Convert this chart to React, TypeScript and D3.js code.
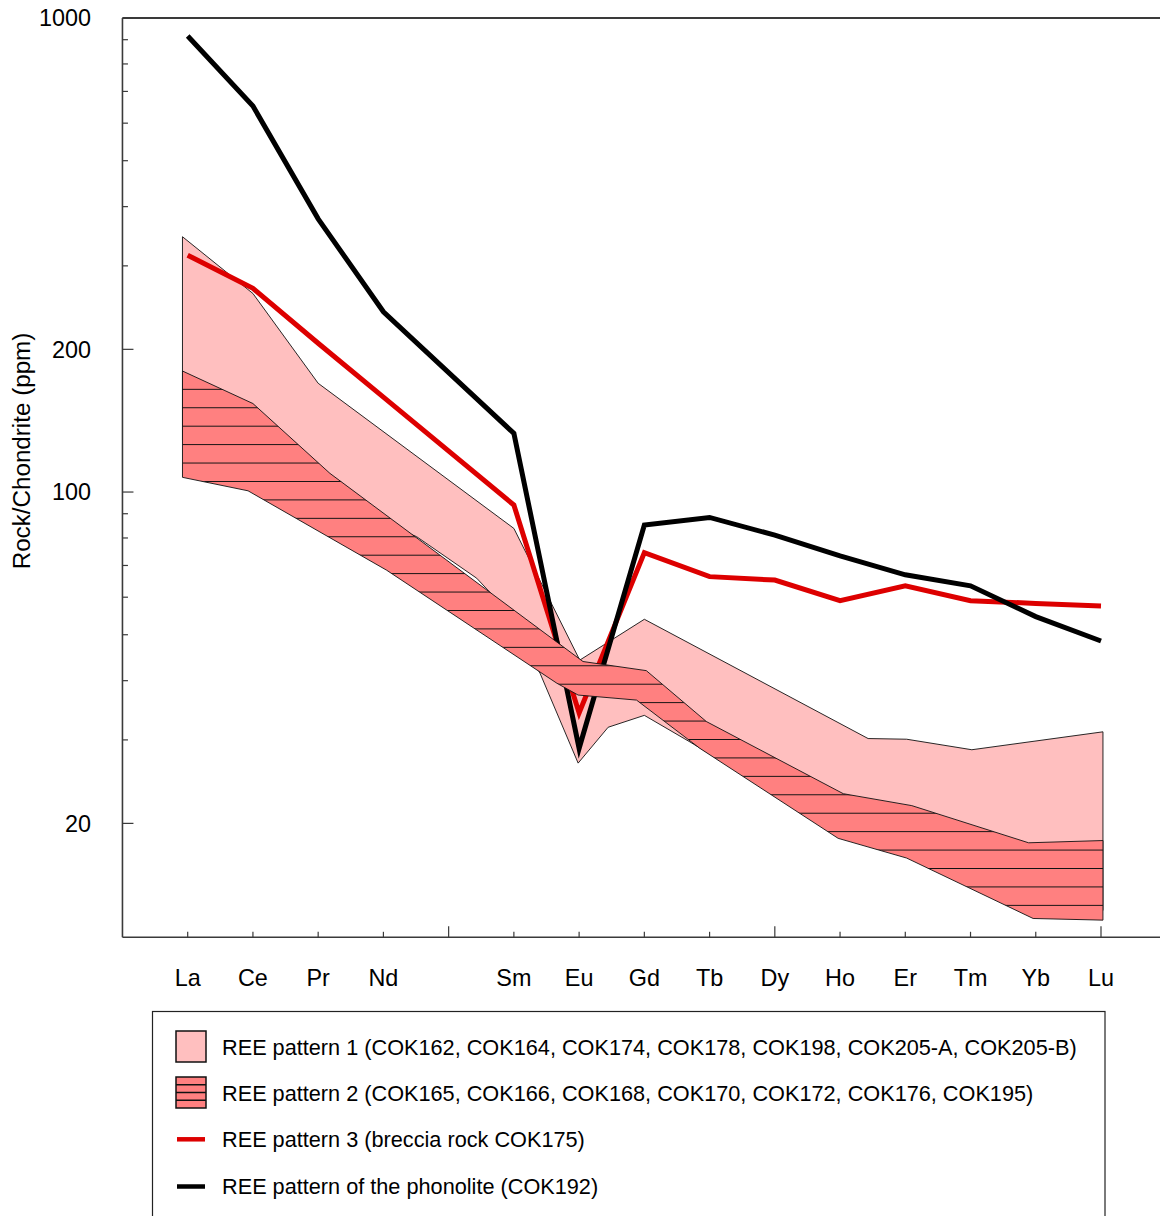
import React from "react";
import * as d3 from "d3";

// Rare earth elements on the x axis (atomic number positions; Pm has no label)
const ELEMENTS = ["La", "Ce", "Pr", "Nd", "Sm", "Eu", "Gd", "Tb", "Dy", "Ho", "Er", "Tm", "Yb", "Lu"];
const ATOMIC = [57, 58, 59, 60, 62, 63, 64, 65, 66, 67, 68, 69, 70, 71];
const X_TICKS = [57, 58, 59, 60, 61, 62, 63, 64, 65, 66, 67, 68, 69, 70, 71];
const X_MAJOR_TICKS = [61, 66, 71];
const Y_LABELS = [20, 100, 200, 1000];

// Chondrite-normalised values
const PHONOLITE = [916, 652, 377, 240, 133, 28.8, 85.2, 88.4, 81.1, 73.3, 66.9, 63.4, 54.6, 48.5];
const BRECCIA = [316, 269, 206, 158.6, 93.9, 34.2, 74.5, 66.3, 65.2, 59.0, 63.4, 59.0, 58.2, 57.5];

// Envelopes of the sample groups: [position, value]
const PATTERN1_MAX: [number, number][] = [
  [56.92, 345.6], [58.0, 262.3], [59.0, 169.6], [62.0, 83.8], [63.01, 44.2], [64.0, 53.9],
  [67.43, 30.2], [68.02, 30.1], [69.02, 28.6], [71.03, 31.2],
];
const PATTERN1_MIN: [number, number][] = [
  [56.92, 128.8], [59.18, 96.2], [60.51, 80.5], [61.43, 65.8], [61.63, 61.5], [62.4, 41.5],
  [62.985, 26.8], [63.445, 31.9], [64.0, 33.8], [64.7, 29.7], [66.97, 19.2], [71.03, 13.1],
];
const PATTERN2_MAX: [number, number][] = [
  [56.92, 180.0], [58.0, 153.7], [59.18, 109.5], [63.06, 43.9], [64.03, 42.0], [64.95, 32.8],
  [67.05, 23.1], [68.1, 21.8], [69.89, 18.2], [71.03, 18.4],
];
const PATTERN2_MIN: [number, number][] = [
  [56.92, 107.4], [57.925, 100.6], [60.05, 68.4], [62.66, 39.5], [62.985, 37.3], [63.88, 36.4],
  [64.85, 28.8], [66.97, 18.6], [68.02, 16.9], [69.96, 12.6], [71.03, 12.5],
];

const LEGEND = [
  "REE pattern 1 (COK162, COK164, COK174, COK178, COK198, COK205-A, COK205-B)",
  "REE pattern 2 (COK165, COK166, COK168, COK170, COK172, COK176, COK195)",
  "REE pattern 3 (breccia rock COK175)",
  "REE pattern of the phonolite (COK192)",
];

const FONT = "'Liberation Sans', Arial, Helvetica, sans-serif";
const PINK = "#FFBFBF";
const SALMON = "#FF8080";
const RED = "#DD0000";

export default function App() {
  const left = 122.46;
  const top = 18;
  const bottom = 937.3;
  const step = 65.236;
  const x = d3.scaleLinear().domain([56, 72]).range([left, left + 16 * step]);
  const y = d3.scaleLog().domain([11.5, 1000]).range([bottom, top]);

  const line = d3.line<[number, number]>().x((d) => x(d[0])).y((d) => y(d[1]));
  const band = (hi: [number, number][], lo: [number, number][]) =>
    line([...hi, ...lo.slice().reverse()]) + "Z";
  const series = (vals: number[]) => line(vals.map((v, i) => [ATOMIC[i], v] as [number, number]));

  const yTicks = y.ticks();
  const axisColor = "#3a3a3a";

  return (
    <svg
      width={1160}
      height={1216}
      style={{ position: "absolute", left: 0, top: 0, background: "#fff" }}
      fontFamily={FONT}
    >
      <defs>
        <pattern id="hatch" patternUnits="userSpaceOnUse" x={0} y={11.5} width={40} height={18.43}>
          <rect width={40} height={18.43} fill={SALMON} />
          <line x1={0} x2={40} y1={9.215} y2={9.215} stroke="#111" strokeWidth={1} />
        </pattern>
      </defs>

      {/* pattern 1 envelope */}
      <path d={band(PATTERN1_MAX, PATTERN1_MIN)} fill={PINK} stroke="#111" strokeWidth={0.9} strokeLinejoin="miter" />

      {/* single samples */}
      <path d={series(BRECCIA) || ""} fill="none" stroke={RED} strokeWidth={5} strokeLinejoin="miter" strokeMiterlimit={10} />
      <path d={series(PHONOLITE) || ""} fill="none" stroke="#000" strokeWidth={5} strokeLinejoin="miter" strokeMiterlimit={10} />

      {/* pattern 2 envelope, hatched */}
      <path d={band(PATTERN2_MAX, PATTERN2_MIN)} fill="url(#hatch)" stroke="#111" strokeWidth={0.9} />

      {/* axes */}
      <line x1={left} x2={1160} y1={top} y2={top} stroke={axisColor} strokeWidth={1.8} />
      <line x1={left} x2={1160} y1={bottom} y2={bottom} stroke={axisColor} strokeWidth={1.6} />
      <line x1={left} x2={left} y1={top} y2={bottom} stroke={axisColor} strokeWidth={1.6} />

      {yTicks.map((t) => {
        const major = Y_LABELS.includes(t);
        return (
          <line key={"yt" + t} x1={left} x2={left + (major ? 11 : 5.5)} y1={y(t)} y2={y(t)} stroke={axisColor} strokeWidth={1.2} />
        );
      })}
      {Y_LABELS.map((t) => (
        <text key={"yl" + t} x={91} y={y(t)} dy="0.35em" textAnchor="end" fontSize={23.4} fill="#000">
          {t}
        </text>
      ))}

      {X_TICKS.map((t) => {
        const major = X_MAJOR_TICKS.includes(t);
        return (
          <line key={"xt" + t} x1={x(t)} x2={x(t)} y1={bottom} y2={bottom - (major ? 11 : 5.5)} stroke={axisColor} strokeWidth={1.2} />
        );
      })}
      {ELEMENTS.map((el, i) => (
        <text key={"xl" + el} x={x(ATOMIC[i])} y={986} textAnchor="middle" fontSize={23.4} fill="#000">
          {el}
        </text>
      ))}

      <text transform="translate(30,451) rotate(-90)" textAnchor="middle" fontSize={24.2} fill="#000">
        Rock/Chondrite (ppm)
      </text>

      {/* legend */}
      <rect x={152.5} y={1011.5} width={952.5} height={240} fill="none" stroke="#222" strokeWidth={1.2} />
      <rect x={176} y={1031} width={30} height={31} fill={PINK} stroke="#111" strokeWidth={1.5} />
      <rect x={176} y={1077} width={30} height={31} fill={SALMON} stroke="#111" strokeWidth={1.5} />
      {[0.25, 0.5, 0.75].map((f) => (
        <line key={"lh" + f} x1={176} x2={206} y1={1077 + 31 * f} y2={1077 + 31 * f} stroke="#111" strokeWidth={1.5} />
      ))}
      <line x1={177} x2={205} y1={1139.3} y2={1139.3} stroke={RED} strokeWidth={4.5} />
      <line x1={177} x2={205} y1={1186.5} y2={1186.5} stroke="#000" strokeWidth={4.5} />
      {LEGEND.map((txt, i) => (
        <text key={"lg" + i} x={222} y={[1047, 1093, 1139.3, 1186.5][i]} dy="0.35em" fontSize={21.7} fill="#000">
          {txt}
        </text>
      ))}
    </svg>
  );
}
